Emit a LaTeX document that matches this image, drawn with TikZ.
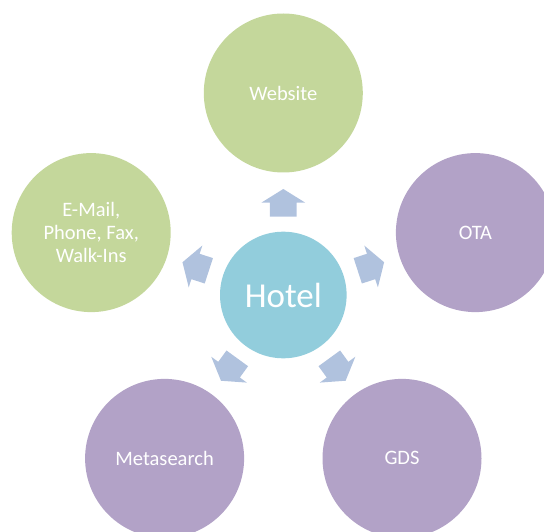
\documentclass[tikz,border=0pt]{standalone}
\usepackage{fontspec}
\setmainfont{Carlito}
\usepackage{tikz}
\usetikzlibrary{positioning}
\definecolor{chgreen}{RGB}{196,215,155}
\definecolor{chpurple}{RGB}{178,162,199}
\definecolor{chblue}{RGB}{146,205,220}
\definecolor{charrow}{RGB}{176,194,222}

\begin{document}
\begin{tikzpicture}[x=1pt, y=1pt,
    every node/.style={circle, inner sep=0pt, text=white, align=center},
    channel/.style={minimum size=159pt, font=\fontsize{20.5}{23}\selectfont},
    direct/.style={channel, fill=chgreen},
    indirect/.style={channel, fill=chpurple},
    blockarrow/.style={fill=charrow}
]
\clip (0,0) rectangle (544,531);

% ---- Centro ----
\node[fill=chblue, minimum size=126.6pt, font=\fontsize{35}{40}\selectfont] (hotel) at (283.3,236) {Hotel};

% ---- Canales ----
\node[direct]   (web)   at (283.3,438) {Website};
\node[indirect] (ota)   at (475.4,298.4) {OTA};
\node[indirect] (gds)   at (402.0,72.6) {GDS};
\node[indirect] (meta)  at (164.6,72.6) {Metasearch};
\node[direct]   (email) at (91.2,298.4) {E-Mail,\\ Phone, Fax,\\ Walk-Ins};

% Flechas
\foreach \a in {90,18,-54,-126,162} {
  \begin{scope}[shift={(hotel.center)}, rotate=\a]
    \fill[blockarrow] (78.3,-13.35) -- (92.3,-13.35) -- (92.3,-22) -- (106,0)
      -- (92.3,22) -- (92.3,13.35) -- (78.3,13.35) -- cycle;
  \end{scope}
}

\end{tikzpicture}
\end{document}
